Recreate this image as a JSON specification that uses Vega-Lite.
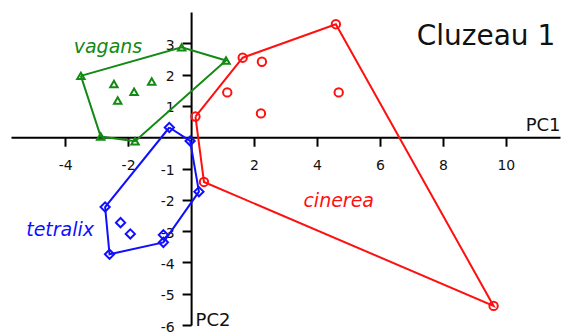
{
  "$schema": "https://vega.github.io/schema/vega-lite/v6.json",
  "width": 549,
  "height": 313,
  "autosize": {"type": "none"},
  "padding": {"left": 11, "top": 12, "right": 3, "bottom": 8},
  "background": "white",
  "config": {
    "view": {"stroke": null},
    "font": "DejaVu Sans",
    "axis": {
      "grid": false,
      "domainColor": "black",
      "domainWidth": 2,
      "tickColor": "black",
      "tickWidth": 2,
      "tickSize": 9,
      "labelFont": "DejaVu Sans",
      "labelFontSize": 14,
      "labelColor": "#111",
      "labelExpr": "toString(datum.value)",
      "titleFont": "DejaVu Sans",
      "titleFontSize": 18,
      "titleFontWeight": "normal",
      "titleColor": "#111"
    }
  },
  "datasets": {
    "pts": [
      {"species": "vagans", "pc1": -3.50, "pc2": 1.96},
      {"species": "vagans", "pc1": -0.30, "pc2": 2.87},
      {"species": "vagans", "pc1": 1.11, "pc2": 2.45},
      {"species": "vagans", "pc1": -1.78, "pc2": -0.13},
      {"species": "vagans", "pc1": -2.87, "pc2": 0.02},
      {"species": "vagans", "pc1": -2.45, "pc2": 1.70},
      {"species": "vagans", "pc1": -2.33, "pc2": 1.17},
      {"species": "vagans", "pc1": -1.81, "pc2": 1.45},
      {"species": "vagans", "pc1": -1.25, "pc2": 1.78},
      {"species": "cinerea", "pc1": 0.14, "pc2": 0.66},
      {"species": "cinerea", "pc1": 1.64, "pc2": 2.54},
      {"species": "cinerea", "pc1": 4.60, "pc2": 3.61},
      {"species": "cinerea", "pc1": 9.61, "pc2": -5.39},
      {"species": "cinerea", "pc1": 0.41, "pc2": -1.43},
      {"species": "cinerea", "pc1": 2.25, "pc2": 2.41},
      {"species": "cinerea", "pc1": 1.15, "pc2": 1.43},
      {"species": "cinerea", "pc1": 4.69, "pc2": 1.43},
      {"species": "cinerea", "pc1": 2.22, "pc2": 0.76},
      {"species": "tetralix", "pc1": -0.69, "pc2": 0.31},
      {"species": "tetralix", "pc1": -0.03, "pc2": -0.12},
      {"species": "tetralix", "pc1": 0.25, "pc2": -1.74},
      {"species": "tetralix", "pc1": -0.88, "pc2": -3.36},
      {"species": "tetralix", "pc1": -2.59, "pc2": -3.74},
      {"species": "tetralix", "pc1": -2.73, "pc2": -2.23},
      {"species": "tetralix", "pc1": -0.88, "pc2": -3.12},
      {"species": "tetralix", "pc1": -2.24, "pc2": -2.73},
      {"species": "tetralix", "pc1": -1.93, "pc2": -3.09}
    ],
    "hulls": [
      {"species": "vagans", "ord": 1, "pc1": -3.50, "pc2": 1.96},
      {"species": "vagans", "ord": 2, "pc1": -0.30, "pc2": 2.87},
      {"species": "vagans", "ord": 3, "pc1": 1.11, "pc2": 2.45},
      {"species": "vagans", "ord": 4, "pc1": -1.78, "pc2": -0.13},
      {"species": "vagans", "ord": 5, "pc1": -2.87, "pc2": 0.02},
      {"species": "vagans", "ord": 6, "pc1": -3.50, "pc2": 1.96},
      {"species": "cinerea", "ord": 1, "pc1": 0.14, "pc2": 0.66},
      {"species": "cinerea", "ord": 2, "pc1": 1.64, "pc2": 2.54},
      {"species": "cinerea", "ord": 3, "pc1": 4.60, "pc2": 3.61},
      {"species": "cinerea", "ord": 4, "pc1": 9.61, "pc2": -5.39},
      {"species": "cinerea", "ord": 5, "pc1": 0.41, "pc2": -1.43},
      {"species": "cinerea", "ord": 6, "pc1": 0.14, "pc2": 0.66},
      {"species": "tetralix", "ord": 1, "pc1": -0.69, "pc2": 0.31},
      {"species": "tetralix", "ord": 2, "pc1": -0.03, "pc2": -0.12},
      {"species": "tetralix", "ord": 3, "pc1": 0.25, "pc2": -1.74},
      {"species": "tetralix", "ord": 4, "pc1": -0.88, "pc2": -3.36},
      {"species": "tetralix", "ord": 5, "pc1": -2.59, "pc2": -3.74},
      {"species": "tetralix", "ord": 6, "pc1": -2.73, "pc2": -2.23},
      {"species": "tetralix", "ord": 7, "pc1": -0.69, "pc2": 0.31}
    ],
    "labels": [
      {"species": "vagans", "text": "vagans", "pc1": -2.64, "pc2": 2.69},
      {"species": "tetralix", "text": "tetralix", "pc1": -4.16, "pc2": -3.17},
      {"species": "cinerea", "text": "cinerea", "pc1": 4.69, "pc2": -2.23}
    ],
    "title": [
      {"text": "Cluzeau 1", "pc1": 11.57, "pc2": 2.93}
    ]
  },
  "encoding": {
    "x": {
      "field": "pc1", "type": "quantitative",
      "scale": {"domain": [-5.72, 11.72], "nice": false, "zero": false},
      "axis": {
        "values": [-4, -2, 2, 4, 6, 8, 10],
        "offset": -187.8,
        "labelPadding": 12,
        "title": "PC1",
        "titleX": 549, "titleY": -7,
        "titleAlign": "right", "titleBaseline": "alphabetic",
        "titleAnchor": null
      }
    },
    "y": {
      "field": "pc2", "type": "quantitative",
      "scale": {"domain": [-6, 4], "nice": false, "zero": false},
      "axis": {
        "values": [-6, -5, -4, -3, -2, -1, 1, 2, 3],
        "offset": -180.1,
        "labelPadding": 8,
        "labelOffset": 2,
        "title": "PC2",
        "titleAngle": 0,
        "titleX": 4, "titleY": 313,
        "titleAlign": "left", "titleBaseline": "alphabetic",
        "titleAnchor": null
      }
    }
  },
  "layer": [
    {
      "data": {"name": "hulls"},
      "mark": {"type": "line", "strokeWidth": 2},
      "encoding": {
        "order": {"field": "ord", "type": "quantitative"},
        "detail": {"field": "species"},
        "color": {
          "field": "species", "type": "nominal",
          "scale": {"domain": ["vagans", "cinerea", "tetralix"], "range": ["#138a13", "#ff1010", "#1010ff"]},
          "legend": null
        }
      }
    },
    {
      "data": {"name": "pts"},
      "mark": {"type": "point", "filled": false, "strokeWidth": 2, "opacity": 1},
      "encoding": {
        "color": {"field": "species", "type": "nominal", "legend": null},
        "shape": {
          "field": "species", "type": "nominal",
          "scale": {"domain": ["vagans", "cinerea", "tetralix"], "range": ["triangle-up", "circle", "diamond"]},
          "legend": null
        },
        "size": {
          "field": "species", "type": "nominal",
          "scale": {"domain": ["vagans", "cinerea", "tetralix"], "range": [55, 85, 60]},
          "legend": null
        }
      }
    },
    {
      "data": {"name": "labels"},
      "mark": {"type": "text", "fontSize": 19, "fontStyle": "italic", "font": "DejaVu Sans", "align": "center", "baseline": "alphabetic"},
      "encoding": {
        "text": {"field": "text"},
        "color": {"field": "species", "type": "nominal", "legend": null}
      }
    },
    {
      "data": {"name": "title"},
      "mark": {"type": "text", "fontSize": 28, "font": "DejaVu Sans", "align": "right", "baseline": "alphabetic", "color": "#111"},
      "encoding": {
        "text": {"field": "text"}
      }
    }
  ]
}
